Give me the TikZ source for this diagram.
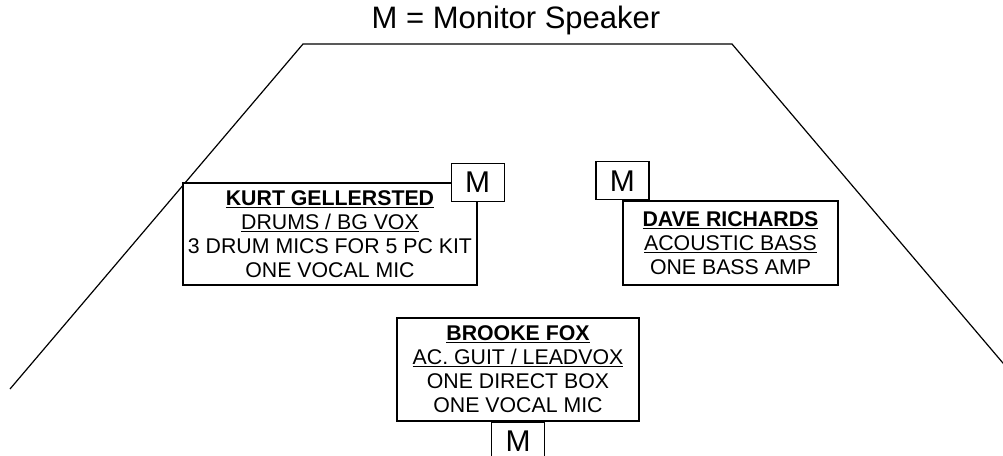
\documentclass[tikz,border=0pt]{standalone}
\usepackage{fontspec}
\setmainfont{Liberation Sans}
\usepackage{tikz}
\usetikzlibrary{positioning}
\tikzstyle{stage}=[line width=1.2pt]
\tikzstyle{Aplayer}=[draw,fill=white,line width=1.2pt,align=center,inner sep=0pt,
                font=\fontsize{21.3}{24}\selectfont]
\tikzstyle{Amon}=[draw,fill=white,line width=1.2pt,inner sep=0pt,
                minimum width=53pt,minimum height=38pt,font=\fontsize{30}{30}\selectfont]
\tikzstyle{Atitle}=[font=\fontsize{31}{31}\selectfont,anchor=base]

\begin{document}
\begin{tikzpicture}[x=1pt,y=-1pt]
\useasboundingbox (0,0) rectangle (1003,455);

\node[Atitle] (title) at (516,28) {M = Monitor Speaker};

% stage outline
\draw[stage] (10,389) -- (303,44) -- (732,44) -- (1025,389);

\node[Aplayer,minimum width=294pt,minimum height=102pt] (kurt) at (330,234)
{\textbf{\underline{KURT GELLERSTED}}\\\underline{DRUMS / BG VOX}\\
3 DRUM MICS FOR 5 PC KIT\\ONE VOCAL MIC};
\node[Amon] (kurtM) at (kurt.north east) {M};

\node[Aplayer,minimum width=215pt,minimum height=84pt] (dave) at (730.5,243)
{\textbf{\underline{DAVE RICHARDS}}\\\underline{ACOUSTIC BASS}\\ONE BASS AMP};
\node[Amon,anchor=south] (daveM) at (dave.north west) {M};

\node[Aplayer,minimum width=242pt,minimum height=103pt] (brooke) at (518,369.5)
{\textbf{\underline{BROOKE FOX}}\\\underline{AC. GUIT / LEADVOX}\\
ONE DIRECT BOX\\ONE VOCAL MIC};
\node[Amon,below=0pt of brooke] (brookeM) {M};
\end{tikzpicture}
\end{document}
